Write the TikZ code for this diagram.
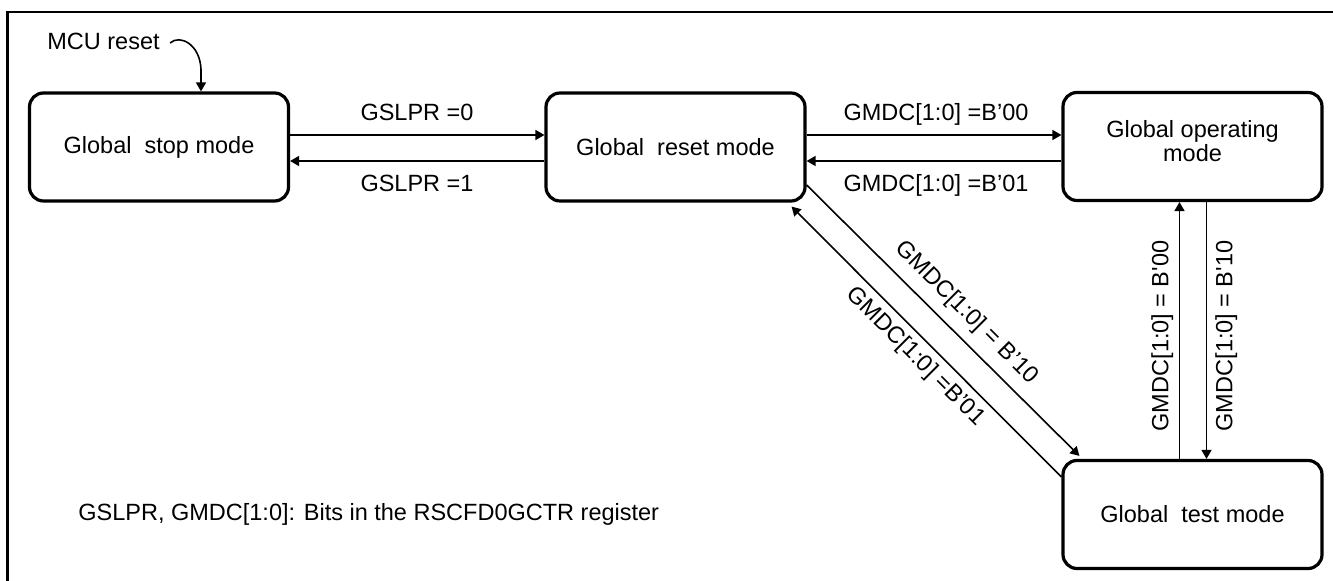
\documentclass[tikz,border=0pt]{standalone}
\usepackage{fontspec}
\setmainfont{Liberation Sans}
\usetikzlibrary{arrows.meta,calc}
\newcommand\diagfont{\fontsize{11.75}{12}\selectfont}
\begin{document}
\begin{tikzpicture}[x=0.5pt,y=-0.5pt,
  statebox/.style={draw, line width=1.6pt, rounded corners=7pt,
    minimum width=129.5pt, minimum height=54pt, inner sep=0pt, font=\diagfont},
  lbl/.style={inner sep=0pt, font=\diagfont, text height=8.4pt, text depth=0pt},
  conn/.style={line width=0.8pt, -{Triangle[length=4.5pt,width=5pt]}},
  frame/.style={draw, line width=1.3pt}]
\useasboundingbox (0,0) rectangle (1333,581);
\clip (0,0) rectangle (1333,581);
\draw[frame] (7.5,12) rectangle (1360,600);

% states
\node[statebox] (b1) at (159,147) {Global\ \ stop mode};
\node[statebox] (b2) at (675.5,147) {Global\ \ reset mode};
\node[statebox] (b3) at (1192.5,146.5) {};
\node[lbl, align=center, text height=, text depth=] (b3t) at (1192.5,141.5) {Global operating\\mode};
\node[statebox] (b4) at (1192.5,514.5) {Global\ \ test mode};

% MCU reset
\node[lbl, anchor=west] (mcu) at (47,41.5) {MCU reset};
\draw[conn] ($(mcu.east)+(10,1.5)$) .. controls +(10,-9) and +(-1,-25) .. ($(b1.north)+(42,-22)$) -- ($(b1.north)+(42,0)$);

% stop <-> reset
\draw[conn] ($(b1.east)+(0,-12)$) -- ($(b2.west)+(0,-12)$);
\draw[conn] ($(b2.west)+(0,14)$) -- ($(b1.east)+(0,14)$);
\node[lbl] (l1) at (417,112) {GSLPR =0};
\node[lbl] (l2) at (417,183) {GSLPR =1};

% reset <-> operating
\draw[conn] ($(b2.east)+(0,-12)$) -- ($(b3.west)+(0,-11.5)$);
\draw[conn] ($(b3.west)+(0,14.5)$) -- ($(b2.east)+(0,14)$);
\node[lbl] (l3) at (936,112) {GMDC[1:0] =B’00};
\node[lbl] (l4) at (936,183) {GMDC[1:0] =B’01};

% operating <-> test
\draw[conn] ($(b4.north)+(-13,0)$) -- ($(b3.south)+(-13,0)$);
\draw[conn] ($(b3.south)+(14,0)$) -- ($(b4.north)+(14,0)$);
\node[lbl, rotate=90] (l5) at (1160,336) {GMDC[1:0] = B\textquotesingle 00};
\node[lbl, rotate=90] (l6) at (1224,336) {GMDC[1:0] = B\textquotesingle 10};

% reset <-> test
\draw[conn] ($(b2.east)+(0,38)$) -- ($(b4.north west)+(18,-3)$);
\draw[conn] ($(b4.west)+(0,-37.5)$) -- ($(b2.south east)+(-15,4)$);
\node[lbl, rotate=-45] (l7) at (968,311) {GMDC[1:0] = B’10};
\node[lbl, rotate=-45] (l8) at (917,355) {GMDC[1:0] =B’01};

% note
\node[lbl, anchor=west] (note) at (78,512) {GSLPR, GMDC[1:0]: Bits in the RSCFD0GCTR register};
\end{tikzpicture}
\end{document}
